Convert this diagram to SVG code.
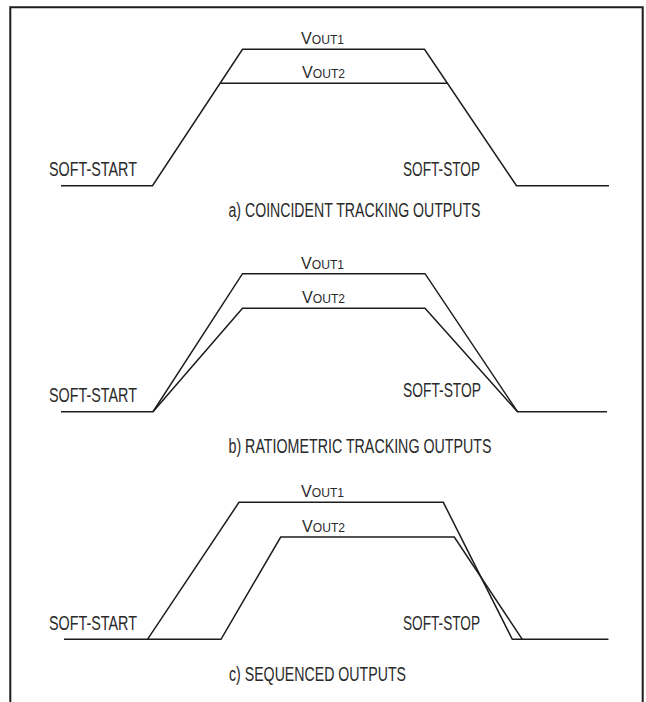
<svg xmlns="http://www.w3.org/2000/svg" width="646" height="702" viewBox="0 0 646 702">
<style>
.w{fill:none;stroke:#1c1c1c;stroke-width:1.5;stroke-linejoin:miter}
.t{font-family:"Liberation Sans",Arial,sans-serif;font-size:19.5px;fill:#2a2a2a}
.v{font-family:"Liberation Sans",Arial,sans-serif;fill:#2a2a2a}
.big{font-size:16px}
.sub{font-size:12px}
</style>
<rect width="646" height="702" fill="#ffffff"/>
<path id="frame" d="M10.3,702 V7.3 H642.7 V702" fill="none" stroke="#1c1c1c" stroke-width="2"/>

<g id="panel-a">
  <g id="a-waves">
    <polyline class="w" points="61,185.7 152.5,185.7 242.5,49.3 424.5,49.3 516.5,185.7 609,185.7"/>
    <line class="w" x1="220.5" y1="83.3" x2="447.2" y2="83.3"/>
  </g>
  <text class="v" x="301" y="44" textLength="43" lengthAdjust="spacingAndGlyphs"><tspan class="big">V</tspan><tspan class="sub">OUT1</tspan></text>
  <text class="v" x="302" y="77.5" textLength="43" lengthAdjust="spacingAndGlyphs"><tspan class="big">V</tspan><tspan class="sub">OUT2</tspan></text>
  <text class="t" x="49" y="175.5" textLength="88" lengthAdjust="spacingAndGlyphs">SOFT-START</text>
  <text class="t" x="403" y="175.5" textLength="77" lengthAdjust="spacingAndGlyphs">SOFT-STOP</text>
  <text class="t" x="228.5" y="217" textLength="252" lengthAdjust="spacingAndGlyphs">a) COINCIDENT TRACKING OUTPUTS</text>
</g>

<g id="panel-b">
  <g id="b-waves">
    <polyline class="w" points="61,411.7 153,411.7 242.5,273.7 425,273.7 517.5,411.7 607,411.7"/>
    <polyline class="w" points="153,411.7 242.5,308.3 425,308.3 517.5,411.7"/>
  </g>
  <text class="v" x="301" y="268.5" textLength="43" lengthAdjust="spacingAndGlyphs"><tspan class="big">V</tspan><tspan class="sub">OUT1</tspan></text>
  <text class="v" x="302" y="302.5" textLength="43" lengthAdjust="spacingAndGlyphs"><tspan class="big">V</tspan><tspan class="sub">OUT2</tspan></text>
  <text class="t" x="49" y="402" textLength="88" lengthAdjust="spacingAndGlyphs">SOFT-START</text>
  <text class="t" x="403" y="397" textLength="78" lengthAdjust="spacingAndGlyphs">SOFT-STOP</text>
  <text class="t" x="228.5" y="453" textLength="263" lengthAdjust="spacingAndGlyphs">b) RATIOMETRIC TRACKING OUTPUTS</text>
</g>

<g id="panel-c">
  <g id="c-waves">
    <polyline class="w" points="64,639.3 221,639.3 280.7,537 454.3,537 522.3,639.3"/>
    <polyline class="w" points="147.5,639.3 239,502.3 443.3,502.3 512.3,639.3 608.5,639.3"/>
  </g>
  <text class="v" x="301" y="497" textLength="43" lengthAdjust="spacingAndGlyphs"><tspan class="big">V</tspan><tspan class="sub">OUT1</tspan></text>
  <text class="v" x="302" y="531.5" textLength="43" lengthAdjust="spacingAndGlyphs"><tspan class="big">V</tspan><tspan class="sub">OUT2</tspan></text>
  <text class="t" x="49" y="630" textLength="88" lengthAdjust="spacingAndGlyphs">SOFT-START</text>
  <text class="t" x="403" y="630" textLength="77" lengthAdjust="spacingAndGlyphs">SOFT-STOP</text>
  <text class="t" x="229" y="681" textLength="177" lengthAdjust="spacingAndGlyphs">c) SEQUENCED OUTPUTS</text>
</g>
</svg>
